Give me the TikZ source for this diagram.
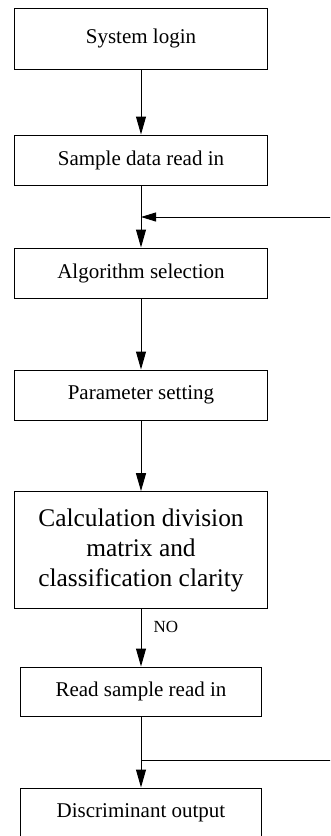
\documentclass[tikz,border=0pt]{standalone}
\usepackage{fontspec}
\setmainfont{Liberation Serif}
\usetikzlibrary{arrows.meta}

\begin{document}
\begin{tikzpicture}[x=1pt, y=-1pt,
    box/.style={draw, line width=1pt, inner sep=0pt, align=center, font=\fontsize{21}{25}\selectfont},
    flow/.style={line width=1pt, -{Triangle[length=18pt, width=10pt]}},
    back/.style={line width=1pt, -{Triangle[length=15pt, width=9pt]}}]
            \clip (0, 0) rectangle (330, 836);

            % Main chain of steps
            \node (login) [box, minimum width=253.5pt, minimum height=60.7pt] at (141, 38.7) {System login};
            \node (readin) [box, minimum width=253.5pt, minimum height=50pt] at (141, 160) {Sample data read in};
            \node (algo) [box, minimum width=253.5pt, minimum height=50pt] at (141, 273) {Algorithm selection};
            \node (param) [box, minimum width=253.5pt, minimum height=50pt] at (141, 395) {Parameter setting};
            \node (calc) [box, minimum width=253.5pt, minimum height=117.3pt, font=\fontsize{25.4}{30}\selectfont] at (141, 550.3) {Calculation division\\matrix and\\classification clarity};
            \node (reread) [box, minimum width=241pt, minimum height=49pt] at (141, 691.5) {Read sample read in};
            \node (output) [box, minimum width=241pt, minimum height=50pt] at (141, 813) {Discriminant output};

            % Return path (runs off the right edge)
            \coordinate (jtop) at (141, 217);
            \coordinate (fbtop) at (331, 217);
            \coordinate (jbot) at (141, 760);
            \coordinate (fbbot) at (331, 760);

            % Arrows
            \draw[flow] (login) -- (readin);
            \draw[flow] (readin) -- (algo);
            \draw[flow] (algo) -- (param);
            \draw[flow] (param) -- (calc);
            \draw[flow] (calc) -- (reread) node[pos=0.3, anchor=west, xshift=12pt, inner sep=0pt, font=\fontsize{17}{20}\selectfont] (no) {NO};
            \draw[flow] (reread) -- (output);
            \draw[back] (fbtop) -- (jtop);
            \draw[line width=1pt] (jbot) -- (fbbot);

        \end{tikzpicture}
\end{document}
